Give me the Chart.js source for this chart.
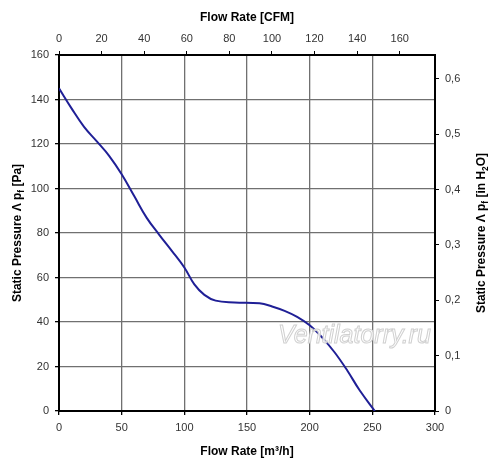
<!DOCTYPE html>
<html lang="en">
<head>
    <meta charset="UTF-8">
    <title>Fan Curve</title>
    <script src="https://cdn.jsdelivr.net/npm/chart.js"></script>
    <style>
        html, body { margin: 0; padding: 0; background: #ffffff; }
        #wrap { width: 500px; height: 473px; }
    </style>
</head>
<body>
    <div id="wrap"><canvas id="fanChart" width="500" height="473"></canvas></div>

    <script>
        // Fan curve
        const flowM3h = [0, 10, 20, 30, 40, 50, 60, 70, 80, 90, 100, 108, 116, 125, 140, 160, 170, 180, 190, 200, 210, 220, 230, 240, 252];
        const pressurePa = [145, 136, 127.7, 121.3, 114.7, 106.4, 96.6, 86.8, 79.2, 72, 64.5, 56.9, 52.2, 49.6, 48.8, 48.4, 47, 45, 42.3, 38.5, 33, 26.3, 18.2, 9.2, 0];

        const M3H_PER_CFM = 1.699;
        const PA_PER_INH2O = 248.84;
        const X_MAX = 300;
        const Y_MAX = 160;

        const font = "Arial, 'Liberation Sans', sans-serif";
        const tickFont = { family: font, size: 11 };
        const axisColor = '#000000';
        const gridColor = '#707070';

        // draws text pieces with subscripts, centred on (x, y)
        function drawRich(ctx, parts, x, y, size) {
            let total = 0;
            parts.forEach(p => {
                ctx.font = 'bold ' + (p.sub ? size * 0.7 : size) + 'px ' + font;
                p.w = ctx.measureText(p.t).width;
                total += p.w;
            });
            let cx = x - total / 2;
            parts.forEach(p => {
                ctx.font = 'bold ' + (p.sub ? size * 0.7 : size) + 'px ' + font;
                ctx.fillText(p.t, cx, p.sub ? y + size * 0.3 : y);
                cx += p.w;
            });
        }

        const titlesPlugin = {
            id: 'titles',
            afterDraw(chart) {
                const ctx = chart.ctx;
                const a = chart.chartArea;
                const midX = (a.left + a.right) / 2;
                const midY = (a.top + a.bottom) / 2;
                ctx.save();
                ctx.fillStyle = '#000000';
                ctx.textBaseline = 'middle';
                ctx.textAlign = 'left';
                drawRich(ctx, [{ t: 'Flow Rate [CFM]' }], midX, 18, 12);
                drawRich(ctx, [{ t: 'Flow Rate [m³/h]' }], midX, 452, 12);

                ctx.save();
                ctx.translate(18, midY);
                ctx.rotate(-Math.PI / 2);
                drawRich(ctx, [{ t: 'Static Pressure Λ p' }, { t: 'f', sub: true }, { t: ' [Pa]' }], 0, 0, 12);
                ctx.restore();

                ctx.save();
                ctx.translate(482, midY);
                ctx.rotate(-Math.PI / 2);
                drawRich(ctx, [{ t: 'Static Pressure Λ p' }, { t: 'f', sub: true }, { t: ' [in H' }, { t: '2', sub: true }, { t: 'O]' }], 0, 0, 12);
                ctx.restore();

                // watermark
                ctx.font = 'italic 25px ' + font;
                ctx.textAlign = 'left';
                ctx.lineWidth = 1;
                ctx.strokeStyle = '#d0d0d0';
                ctx.fillStyle = 'rgba(255,255,255,0.85)';
                ctx.fillText('Ventilatorry.ru', 278, 336);
                ctx.strokeText('Ventilatorry.ru', 278, 336);
                ctx.restore();
            }
        };

        function fixSize(prop, value) {
            return scale => { scale[prop] = value; };
        }

        const points = flowM3h.map((x, i) => ({ x: x, y: pressurePa[i] }));

        new Chart(document.getElementById('fanChart'), {
            type: 'line',
            data: {
                datasets: [{
                    data: points,
                    borderColor: '#1f1f96',
                    borderWidth: 2,
                    pointRadius: 0,
                    tension: 0.4,
                    fill: false
                }]
            },
            plugins: [titlesPlugin],
            options: {
                responsive: false,
                animation: false,
                layout: { padding: 0 },
                plugins: {
                    legend: { display: false },
                    tooltip: { enabled: false }
                },
                scales: {
                    x: {
                        type: 'linear',
                        position: 'bottom',
                        min: 0,
                        max: X_MAX,
                        afterFit: fixSize('height', 62),
                        border: { color: axisColor, width: 2 },
                        grid: { color: gridColor, lineWidth: 1.3, tickLength: 4, tickColor: axisColor },
                        ticks: { stepSize: 50, color: '#333', font: tickFont, padding: 6, maxRotation: 0, autoSkip: false }
                    },
                    xTop: {
                        type: 'linear',
                        position: 'top',
                        min: 0,
                        max: X_MAX / M3H_PER_CFM,
                        afterFit: fixSize('height', 55),
                        border: { color: axisColor, width: 2 },
                        grid: { drawOnChartArea: false, tickLength: 4, color: axisColor },
                        ticks: { stepSize: 20, includeBounds: false, color: '#333', font: tickFont, padding: 5, maxRotation: 0, autoSkip: false }
                    },
                    y: {
                        type: 'linear',
                        position: 'left',
                        min: 0,
                        max: Y_MAX,
                        afterFit: fixSize('width', 59),
                        border: { color: axisColor, width: 2 },
                        grid: { color: gridColor, lineWidth: 1.3, tickLength: 4, tickColor: axisColor },
                        ticks: { stepSize: 20, color: '#333', font: tickFont, padding: 6 }
                    },
                    yRight: {
                        type: 'linear',
                        position: 'right',
                        min: 0,
                        max: Y_MAX / PA_PER_INH2O,
                        afterFit: fixSize('width', 65),
                        border: { color: axisColor, width: 2 },
                        grid: { drawOnChartArea: false, tickLength: 4, color: axisColor },
                        ticks: {
                            stepSize: 0.1,
                            includeBounds: false,
                            color: '#333',
                            font: tickFont,
                            padding: 6,
                            callback: v => v === 0 ? '0' : v.toFixed(1).replace('.', ',')
                        }
                    }
                }
            }
        });
    </script>
</body>
</html>
